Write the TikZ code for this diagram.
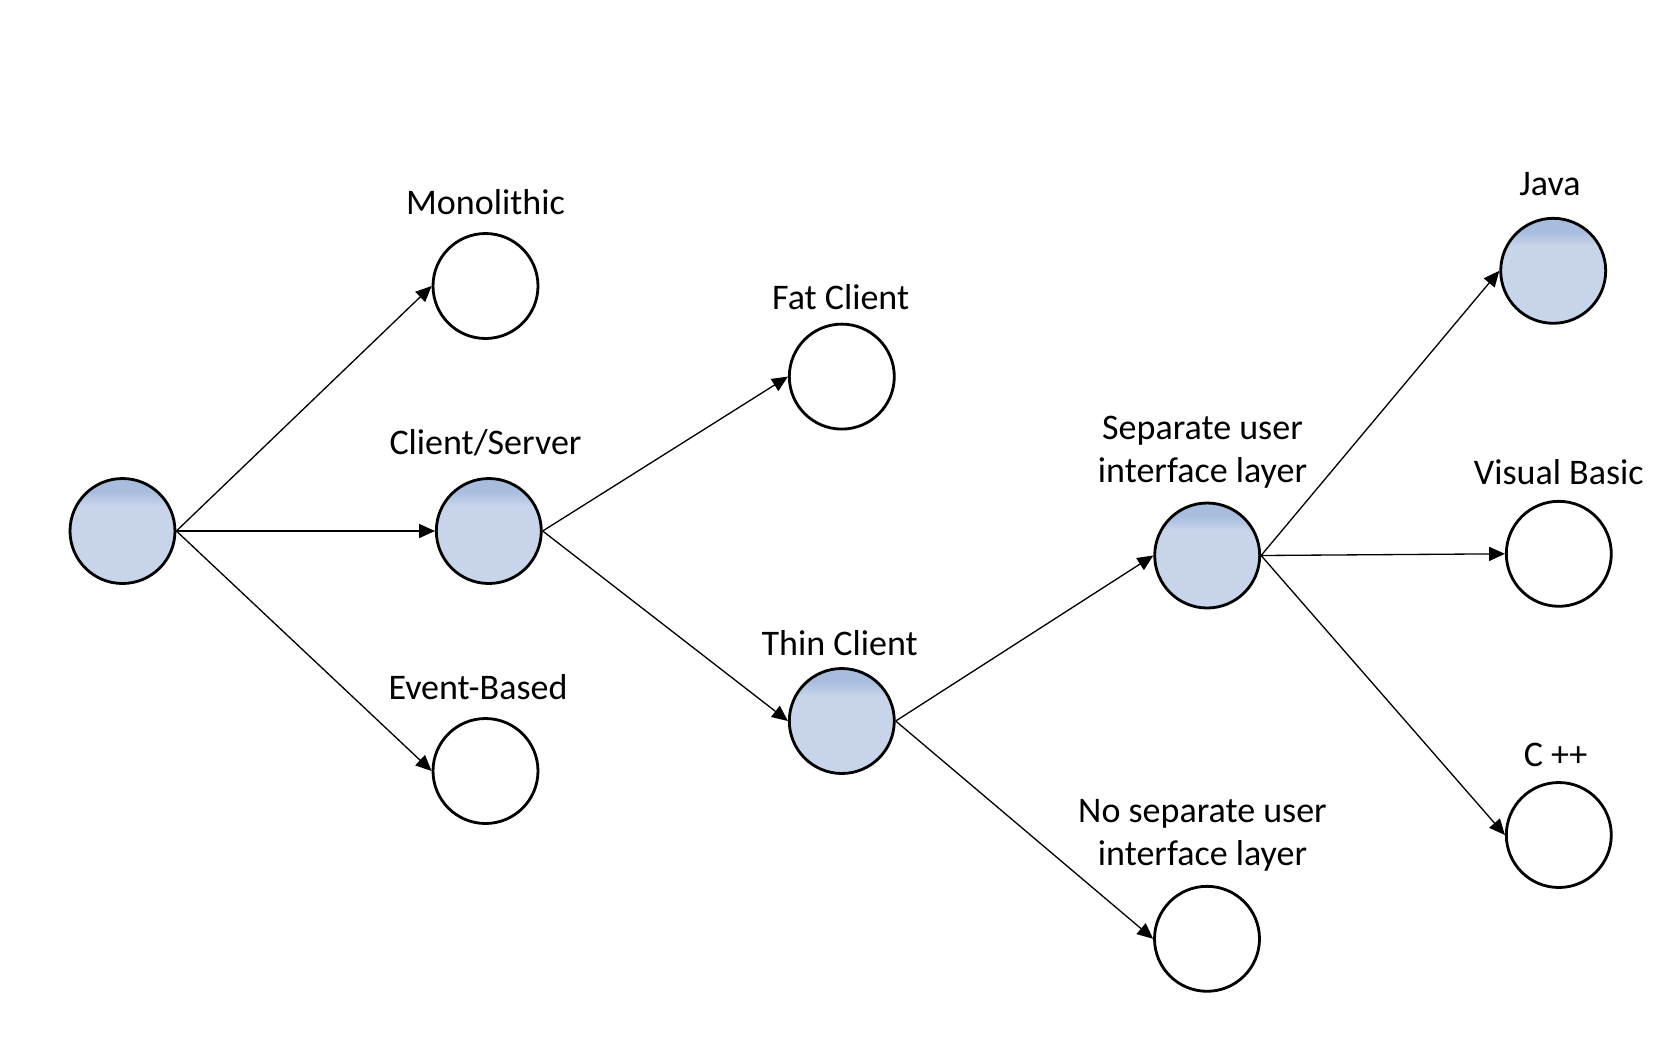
\documentclass[tikz,border=0pt]{standalone}
\usepackage{fontspec}
\setmainfont{Carlito}
\usetikzlibrary{arrows.meta}
\definecolor{ballA}{HTML}{C7D4EA}
\definecolor{ballB}{HTML}{A8BCDE}
\pgfdeclareverticalshading{ballshade}{100bp}{color(0bp)=(ballA); color(62bp)=(ballA); color(69bp)=(ballB); color(100bp)=(ballB)}
\tikzset{
  ball/.style={circle,draw,line width=1.6pt,minimum size=2.1cm,inner sep=0pt},
  pick/.style={ball,shading=ballshade},
  lbl/.style={anchor=base,inner sep=0pt,align=center},
  go/.style={-{Triangle[length=9pt,width=8pt]},line width=0.75pt}
}
\begin{document}
\begin{tikzpicture}[x=0.02cm,y=-0.02cm,font=\fontsize{20.5}{24}\selectfont]
\useasboundingbox (0,0) rectangle (1673,1055);
% circles
\node[pick](root)at(122.5,531){};
\node[ball](mono)at(485.5,286){};
\node[pick](cs)at(488.8,531){};
\node[ball](event)at(485.5,771){};
\node[ball](fat)at(841.8,376.6){};
\node[pick](thin)at(841.8,721){};
\node[pick](sep)at(1207.2,555.5){};
\node[ball](nosep)at(1207,938.8){};
\node[pick](java)at(1553.2,270.8){};
\node[ball](vb)at(1558.8,553.8){};
\node[ball](cpp)at(1558.8,835){};
% labels
\node[lbl](tMono)at(485.5,214){Monolithic};
\node[lbl](tCs)at(485.5,454){Client/Server};
\node[lbl](tEvent)at(478,699.5){Event-Based};
\node[lbl](tFat)at(840.7,309){Fat Client};
\node[lbl](tThin)at(839.7,655){Thin Client};
\node[lbl](tSep)at(1202.5,482){Separate user\\interface layer};
\node[lbl](tNosep)at(1202.5,865){No separate user\\interface layer};
\node[lbl](tJava)at(1550,195){Java};
\node[lbl](tVb)at(1558.8,484){Visual Basic};
\node[lbl](tCpp)at(1555.6,766){C ++};
% arrows
\foreach \a/\b in {root/mono,root/cs,root/event,cs/fat,cs/thin,thin/sep,thin/nosep,sep/java,sep/vb,sep/cpp}
  \draw[go](\a.east)--(\b.west);
\end{tikzpicture}
\end{document}
